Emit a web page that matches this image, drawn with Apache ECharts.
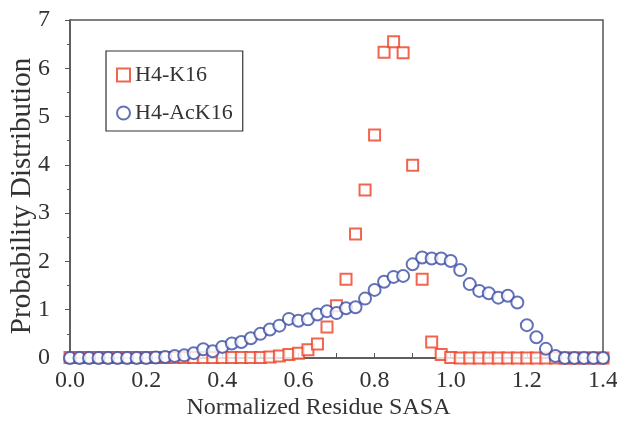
<!DOCTYPE html>
<html>
<head>
<meta charset="utf-8">
<script src="https://cdn.jsdelivr.net/npm/echarts@6/dist/echarts.min.js"></script>
<style>
  html, body { margin: 0; padding: 0; background: #fff; }
  #chart { width: 617px; height: 427px; }
</style>
</head>
<body>
<div id="chart"></div>
<script>
// sample positions (normalized SASA)
const sasa = [
  0.000, 0.025, 0.050, 0.075, 0.100, 0.125, 0.150, 0.175, 0.200, 0.225,
  0.250, 0.275, 0.300, 0.325, 0.350, 0.375, 0.400, 0.425, 0.450, 0.475,
  0.500, 0.525, 0.550, 0.575, 0.600, 0.625, 0.650, 0.675, 0.700, 0.725,
  0.750, 0.775, 0.800, 0.825, 0.850, 0.875, 0.900, 0.925, 0.950, 0.975,
  1.000, 1.025, 1.050, 1.075, 1.100, 1.125, 1.150, 1.175, 1.200, 1.225,
  1.250, 1.275, 1.300, 1.325, 1.350, 1.375, 1.400
];

const k16 = [
  0.01, 0.01, 0.01, 0.01, 0.01, 0.01, 0.01, 0.01, 0.01, 0.01,
  0.01, 0.01, 0.01, 0.01, 0.01, 0.01, 0.01, 0.01, 0.01, 0.01,
  0.01, 0.02, 0.04, 0.07, 0.10, 0.17, 0.29, 0.64, 1.08, 1.63,
  2.57, 3.48, 4.62, 6.33, 6.55, 6.32, 3.99, 1.63, 0.33, 0.07,
  0.01, 0.00, 0.00, 0.00, 0.00, 0.00, 0.00, 0.00, 0.00, 0.00,
  0.00, 0.00, 0.00, 0.00, 0.00, 0.00, 0.00
];

const ack16 = [
  0.00, 0.00, 0.00, 0.00, 0.00, 0.00, 0.00, 0.00, 0.00, 0.01,
  0.02, 0.04, 0.055, 0.10, 0.18, 0.14, 0.23, 0.30, 0.33, 0.41,
  0.50, 0.59, 0.67, 0.81, 0.77, 0.80, 0.90, 0.97, 0.93, 1.03,
  1.05, 1.23, 1.41, 1.58, 1.68, 1.70, 1.94, 2.08, 2.06, 2.06,
  2.01, 1.82, 1.53, 1.39, 1.34, 1.25, 1.29, 1.15, 0.68, 0.43,
  0.19, 0.04, 0.00, 0.00, 0.00, 0.00, 0.00
];

const font = 'Liberation Serif';
const pairs = (ys) => sasa.map((x, i) => [x, ys[i]]);

const chart = echarts.init(document.getElementById('chart'));
chart.setOption({
  animation: false,
  grid: {
    left: 70, right: 14, top: 20, bottom: 69,
    containLabel: false, outerBoundsMode: 'none',
    show: true, borderColor: '#555', borderWidth: 1.5
  },
  legend: {
    left: 106, top: 51,
    orient: 'vertical',
    itemGap: 16,
    itemWidth: 13, itemHeight: 13,
    padding: [13, 10, 7, 10],
    borderColor: '#333', borderWidth: 1.2,
    textStyle: { fontFamily: font, fontSize: 22, color: '#333' },
    data: ['H4-K16', 'H4-AcK16']
  },
  xAxis: {
    type: 'value', min: 0, max: 1.4, interval: 0.2,
    name: 'Normalized Residue SASA', nameLocation: 'middle', nameGap: 38,
    nameMoveOverlap: false,
    nameTextStyle: { fontFamily: font, fontSize: 24, color: '#333', padding: [0, 36, 0, 0] },
    axisLine: { lineStyle: { color: '#555', width: 1.5 } },
    axisTick: { inside: true, length: 5, lineStyle: { color: '#555' } },
    minorTick: { show: true, splitNumber: 2, length: 5, lineStyle: { color: '#555' } },
    splitLine: { show: false },
    axisLabel: {
      fontFamily: font, fontSize: 24, color: '#333', margin: 11,
      formatter: (v) => v.toFixed(1)
    }
  },
  yAxis: {
    type: 'value', min: 0, max: 7, interval: 1,
    name: 'Probability Distribution', nameLocation: 'middle', nameGap: 33,
    nameMoveOverlap: false,
    nameTextStyle: { fontFamily: font, fontSize: 29, color: '#333', padding: [0, 14, 0, 0] },
    axisLine: { lineStyle: { color: '#555', width: 1.5 } },
    axisTick: { inside: false, length: 5, lineStyle: { color: '#555' } },
    minorTick: { show: true, splitNumber: 2, length: 3, lineStyle: { color: '#555' } },
    splitLine: { show: false },
    axisLabel: { fontFamily: font, fontSize: 24, color: '#333', margin: 20 }
  },
  series: [
    {
      name: 'H4-K16', type: 'scatter',
      symbol: 'emptyRect', symbolSize: 11,
      itemStyle: { color: '#ee3f24', borderWidth: 1.8 },
      data: pairs(k16)
    },
    {
      name: 'H4-AcK16', type: 'scatter',
      symbol: 'emptyCircle', symbolSize: 12,
      itemStyle: { color: '#3b4ea6', borderWidth: 1.8 },
      data: pairs(ack16)
    }
  ]
});
</script>
</body>
</html>
